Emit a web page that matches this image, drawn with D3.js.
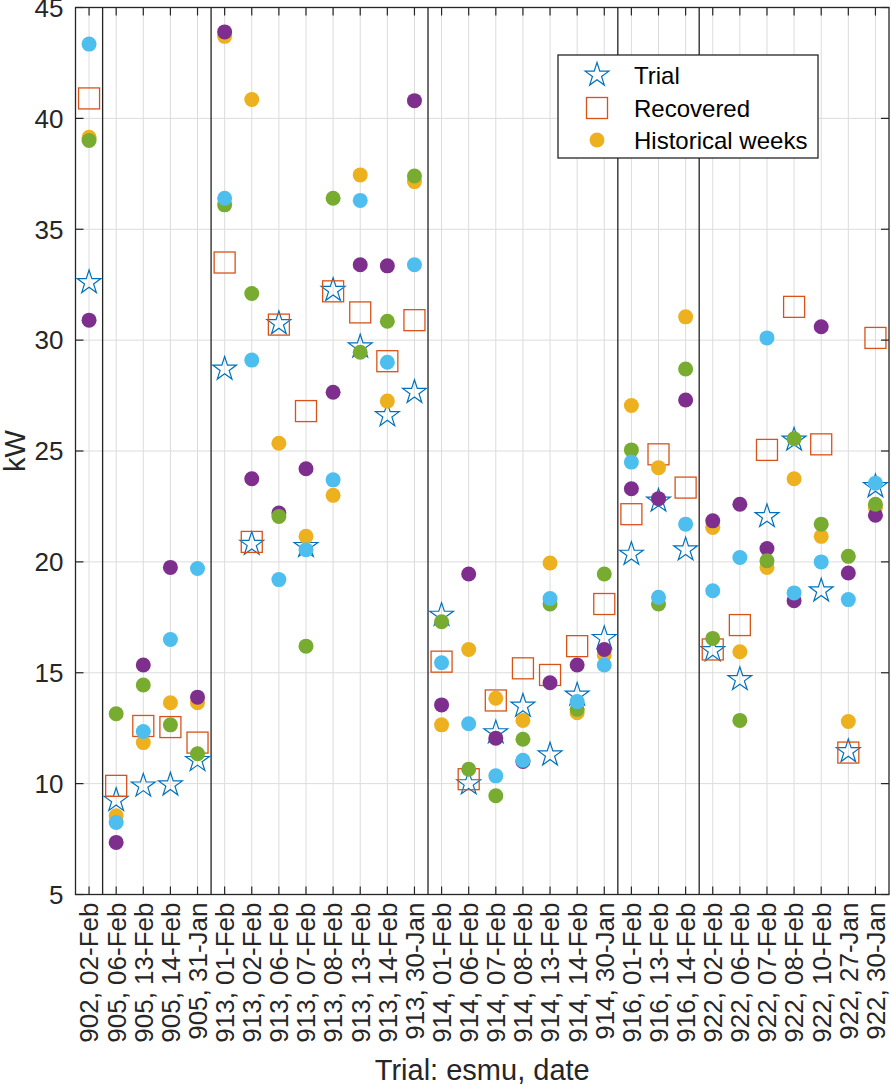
<!DOCTYPE html>
<meta charset="utf-8">
<head>
  <script src="https://d3js.org/d3.v7.min.js"></script>
</head>
<style>
body {
  margin: 0;
  background: white;
  font-family: "Liberation Sans", Arial, Helvetica, sans-serif;
}
.tick-label {
  font-size: 26px;
  fill: #262626;
}
.axis-title {
  font-size: 29px;
  fill: #262626;
}
.legend-text {
  font-size: 24px;
  fill: #000;
}
</style>
<body>
<svg width="891" height="1085" id="container"></svg>
<script>

// categories: "esmu, date"
var categories = [
  "902, 02-Feb",
  "905, 06-Feb", "905, 13-Feb", "905, 14-Feb", "905, 31-Jan",
  "913, 01-Feb", "913, 02-Feb", "913, 06-Feb", "913, 07-Feb", "913, 08-Feb", "913, 13-Feb", "913, 14-Feb", "913, 30-Jan",
  "914, 01-Feb", "914, 06-Feb", "914, 07-Feb", "914, 08-Feb", "914, 13-Feb", "914, 14-Feb", "914, 30-Jan",
  "916, 01-Feb", "916, 13-Feb", "916, 14-Feb",
  "922, 02-Feb", "922, 06-Feb", "922, 07-Feb", "922, 08-Feb", "922, 10-Feb", "922, 27-Jan", "922, 30-Jan"
];

var trial = [32.6, 9.25, 9.9, 9.95, 11.05, 28.7, 20.8, 30.75, 20.7, 32.25, 29.7, 26.6, 27.65,
  17.6, 10.0, 12.3, 13.5, 11.3, 14.0, 16.55, 20.35, 22.75, 20.55, 16.0, 14.7, 22.05, 25.5, 18.7, 11.45, 23.4];

var recovered = [40.9, 9.9, 12.6, 12.55, 11.85, 33.5, 20.9, 30.7, 26.8, 32.2, 31.25, 29.05, 30.9,
  15.5, 10.2, 13.75, 15.2, 14.9, 16.2, 18.1, 22.15, 24.85, 23.35, 16.05, 17.15, 25.05, 31.5, 25.3, 11.4, 30.1];

// historical weeks, one array per week
var histWeek1 = [39.15, 8.55, 11.85, 13.65, 13.65, 43.7, 40.85, 25.35, 21.15, 23.0, 37.45, 27.25, 37.15,
  12.65, 16.05, 13.85, 12.85, 19.95, 13.2, 15.8, 27.05, 24.25, 31.05, 21.55, 15.95, 19.75, 23.75, 21.15, 12.8, 22.45];
var histWeek2 = [30.9, 7.35, 15.35, 19.75, 13.9, 43.9, 23.75, 22.2, 24.2, 27.65, 33.4, 33.35, 40.8,
  13.55, 19.45, 12.05, 11.0, 14.55, 15.35, 16.05, 23.3, 22.85, 27.3, 21.85, 22.6, 20.6, 18.25, 30.6, 19.5, 22.1];
var histWeek3 = [39.0, 13.15, 14.45, 12.65, 11.35, 36.1, 32.1, 22.05, 16.2, 36.4, 29.45, 30.85, 37.4,
  17.3, 10.65, 9.45, 12.0, 18.1, 13.35, 19.45, 25.05, 18.1, 28.7, 16.55, 12.85, 20.05, 25.55, 21.7, 20.25, 22.6];
var histWeek4 = [43.35, 8.25, 12.35, 16.5, 19.7, 36.4, 29.1, 19.2, 20.55, 23.7, 36.3, 29.0, 33.4,
  15.45, 12.7, 10.35, 11.05, 18.35, 13.7, 15.35, 24.5, 18.4, 21.7, 18.7, 20.2, 30.1, 18.6, 20.0, 18.3, 23.55];

var histColors = ["#EDB120", "#7E2F8E", "#77AC30", "#4DBEEE"];
var yTicks = [5, 10, 15, 20, 25, 30, 35, 40, 45];

var svg = d3.select('#container');

var plot = {left: 75.5, right: 889, top: 7.5, bottom: 894.5};

var xScale = d3.scaleLinear().domain([0.5, categories.length + 0.5]).range([plot.left, plot.right]);
var yScale = d3.scaleLinear().domain([5, 45]).range([plot.bottom, plot.top]);

var tickLen = 8;

// grid
var grid = svg.append('g').attr('class', 'grid');
grid.selectAll('.vgrid')
    .data(categories)
    .enter().append('line')
    .attr('x1', function(d, i) { return xScale(i + 1); })
    .attr('x2', function(d, i) { return xScale(i + 1); })
    .attr('y1', plot.top)
    .attr('y2', plot.bottom)
    .attr('stroke', '#dcdcdc')
    .attr('stroke-width', 1);
grid.selectAll('.hgrid')
    .data(yTicks)
    .enter().append('line')
    .attr('x1', plot.left)
    .attr('x2', plot.right)
    .attr('y1', function(d) { return yScale(d); })
    .attr('y2', function(d) { return yScale(d); })
    .attr('stroke', '#dcdcdc')
    .attr('stroke-width', 1);

// group separators, where the esmu number changes
var seps = [];
categories.forEach(function(c, i) {
  if (i > 0 && c.split(',')[0] != categories[i - 1].split(',')[0]) seps.push(i + 0.5);
});
svg.selectAll('.sep')
   .data(seps)
   .enter().append('line')
   .attr('x1', function(d) { return xScale(d); })
   .attr('x2', function(d) { return xScale(d); })
   .attr('y1', plot.top)
   .attr('y2', plot.bottom)
   .attr('stroke', '#222')
   .attr('stroke-width', 1.3);

// markers
function starPath(R) {
  var r = R * 0.382, pts = [];
  for (var k = 0; k < 10; k++) {
    var a = -Math.PI / 2 + k * Math.PI / 5;
    var rr = (k % 2 == 0) ? R : r;
    pts.push([rr * Math.cos(a), rr * Math.sin(a)]);
  }
  return 'M' + pts.map(function(p) { return p[0].toFixed(2) + ',' + p[1].toFixed(2); }).join('L') + 'Z';
}
var starD = starPath(12.5);
var sq = 21;

svg.append('g').selectAll('path')
   .data(trial)
   .enter().append('path')
   .attr('d', starD)
   .attr('transform', function(d, i) { return 'translate(' + xScale(i + 1) + ',' + yScale(d) + ')'; })
   .attr('fill', 'none')
   .attr('stroke', '#0072BD')
   .attr('stroke-width', 1.2);

svg.append('g').selectAll('rect')
   .data(recovered)
   .enter().append('rect')
   .attr('x', function(d, i) { return xScale(i + 1) - sq / 2; })
   .attr('y', function(d) { return yScale(d) - sq / 2; })
   .attr('width', sq)
   .attr('height', sq)
   .attr('fill', 'none')
   .attr('stroke', '#D95319')
   .attr('stroke-width', 1.3);

[histWeek1, histWeek2, histWeek3, histWeek4].forEach(function(series, s) {
  svg.append('g').selectAll('circle')
     .data(series)
     .enter().append('circle')
     .attr('cx', function(d, i) { return xScale(i + 1); })
     .attr('cy', function(d) { return yScale(d); })
     .attr('r', 7.5)
     .attr('fill', histColors[s]);
});

// axes box and ticks
var axis = svg.append('g');
axis.append('rect')
    .attr('x', plot.left).attr('y', plot.top)
    .attr('width', plot.right - plot.left).attr('height', plot.bottom - plot.top)
    .attr('fill', 'none').attr('stroke', '#262626').attr('stroke-width', 1.3);

yTicks.forEach(function(t) {
  var y = yScale(t);
  axis.append('line').attr('x1', plot.left).attr('x2', plot.left + tickLen)
      .attr('y1', y).attr('y2', y).attr('stroke', '#262626').attr('stroke-width', 1.2);
  axis.append('line').attr('x1', plot.right).attr('x2', plot.right - tickLen)
      .attr('y1', y).attr('y2', y).attr('stroke', '#262626').attr('stroke-width', 1.2);
  axis.append('text').attr('class', 'tick-label')
      .attr('x', plot.left - 12).attr('y', y).attr('dy', '0.36em')
      .attr('text-anchor', 'end').text(t);
});

categories.forEach(function(c, i) {
  var x = xScale(i + 1);
  axis.append('line').attr('x1', x).attr('x2', x)
      .attr('y1', plot.bottom).attr('y2', plot.bottom - tickLen)
      .attr('stroke', '#262626').attr('stroke-width', 1.2);
  axis.append('line').attr('x1', x).attr('x2', x)
      .attr('y1', plot.top).attr('y2', plot.top + tickLen)
      .attr('stroke', '#262626').attr('stroke-width', 1.2);
  axis.append('text').attr('class', 'tick-label')
      .attr('transform', 'translate(' + x + ',' + (plot.bottom + 8) + ') rotate(-90)')
      .attr('dy', '0.36em')
      .attr('text-anchor', 'end').text(c);
});

svg.append('text').attr('class', 'axis-title')
   .attr('transform', 'translate(25,' + ((plot.top + plot.bottom) / 2) + ') rotate(-90)')
   .attr('text-anchor', 'middle').text('kW');

svg.append('text').attr('class', 'axis-title')
   .attr('x', (plot.left + plot.right) / 2).attr('y', 1080)
   .attr('text-anchor', 'middle').text('Trial: esmu, date');

// legend
var legend = svg.append('g');
legend.append('rect')
      .attr('x', 558).attr('y', 55).attr('width', 260).attr('height', 103)
      .attr('fill', 'white').attr('stroke', '#262626').attr('stroke-width', 1.3);
var legendRows = [
  {label: 'Trial', y: 75},
  {label: 'Recovered', y: 108},
  {label: 'Historical weeks', y: 140}
];
legend.append('path').attr('d', starD)
      .attr('transform', 'translate(597,' + legendRows[0].y + ')')
      .attr('fill', 'none').attr('stroke', '#0072BD').attr('stroke-width', 1.2);
legend.append('rect')
      .attr('x', 597 - sq / 2).attr('y', legendRows[1].y - sq / 2).attr('width', sq).attr('height', sq)
      .attr('fill', 'none').attr('stroke', '#D95319').attr('stroke-width', 1.3);
legend.append('circle').attr('cx', 597).attr('cy', legendRows[2].y).attr('r', 7.5)
      .attr('fill', histColors[0]);
legend.selectAll('.legend-text')
      .data(legendRows)
      .enter().append('text')
      .attr('class', 'legend-text')
      .attr('x', 634).attr('y', function(d) { return d.y; }).attr('dy', '0.36em')
      .text(function(d) { return d.label; });

</script>
</body>
